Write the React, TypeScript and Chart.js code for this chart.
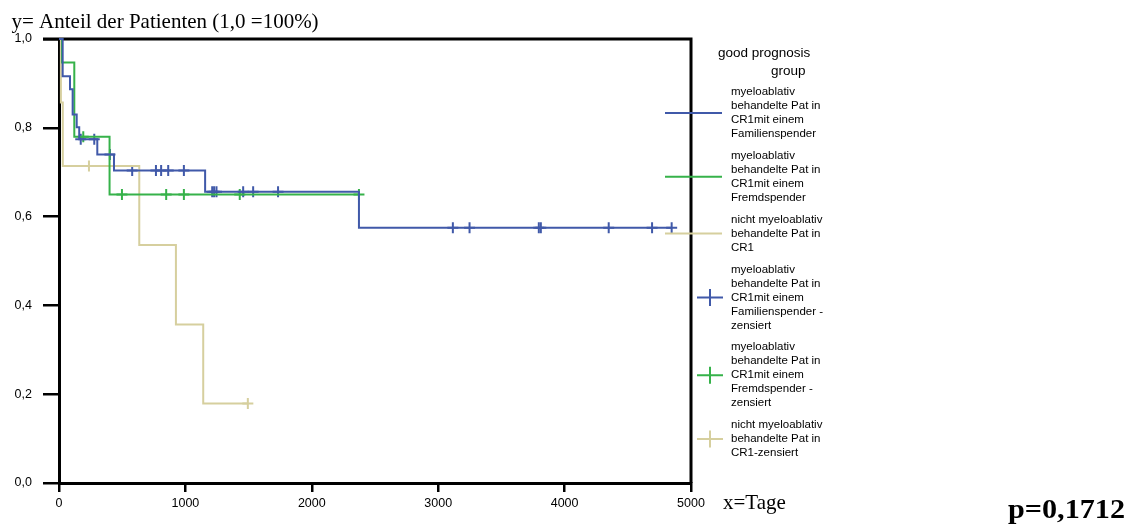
import React, { useEffect, useRef } from "react";
import { Chart, registerables } from "chart.js";

Chart.register(...registerables);

// Kaplan–Meier steps: day of each event and survival after it
const familyDays = [0, 29, 87, 108, 140, 160, 303, 435, 1156, 2373, 4847];
const familySurvival = [1, 0.916, 0.887, 0.83, 0.801, 0.774, 0.74, 0.704, 0.656, 0.575, 0.575];
const familyCensored = [172, 279, 403, 579, 767, 808, 864, 988, 1212, 1227, 1246, 1457, 1536, 1733, 3116, 3248, 3796, 3812, 4349, 4692, 4847];

const unrelatedDays = [0, 24, 121, 400, 2373];
const unrelatedSurvival = [1, 0.947, 0.78, 0.65, 0.65];
const unrelatedCensored = [192, 498, 848, 988, 1430, 2373];

const nonMyeloDays = [0, 15, 30, 635, 925, 1141, 1494];
const nonMyeloSurvival = [1, 0.857, 0.714, 0.536, 0.357, 0.179, 0.179];
const nonMyeloCensored = [237, 1494];

const xTicks = [0, 1000, 2000, 3000, 4000, 5000];
const yTicks = [0, 0.2, 0.4, 0.6, 0.8, 1.0];

const colorFamily = "#4059a9";
const colorUnrelated = "#36b24a";
const colorNonMyelo = "#d6cf9e";

const legendTitle = ["good prognosis", "group"];
const legendEntries = [
  ["myeloablativ", "behandelte Pat in", "CR1mit einem", "Familienspender"],
  ["myeloablativ", "behandelte Pat in", "CR1mit einem", "Fremdspender"],
  ["nicht myeloablativ", "behandelte Pat in", "CR1"],
  ["myeloablativ", "behandelte Pat in", "CR1mit einem", "Familienspender -", "zensiert"],
  ["myeloablativ", "behandelte Pat in", "CR1mit einem", "Fremdspender -", "zensiert"],
  ["nicht myeloablativ", "behandelte Pat in", "CR1-zensiert"],
];

const yAxisTitle = "y= Anteil der Patienten (1,0 =100%)";
const xAxisTitle = "x=Tage";
const pValueText = "p=0,1712";

const SANS = '"Liberation Sans", Arial, sans-serif';
const SERIF = '"Liberation Serif", "Times New Roman", serif';

function stepPoints(days: number[], surv: number[]) {
  return days.map((d, i) => ({ x: d, y: surv[i] }));
}

function survivalAt(days: number[], surv: number[], t: number) {
  let v = surv[0];
  for (let i = 0; i < days.length; i++) if (days[i] <= t) v = surv[i];
  return v;
}

function censorPoints(days: number[], surv: number[], censored: number[]) {
  return censored.map((t) => ({ x: t, y: survivalAt(days, surv, t) }));
}

const decorations = {
  id: "decorations",
  beforeDatasetsDraw(chart: any) {
    const { ctx, chartArea } = chart;
    ctx.save();
    ctx.strokeStyle = "#000";
    ctx.lineWidth = 3;
    ctx.beginPath();
    ctx.moveTo(chartArea.left - 16, chartArea.top);
    ctx.lineTo(chartArea.right, chartArea.top);
    ctx.lineTo(chartArea.right, chartArea.bottom);
    ctx.stroke();
    ctx.restore();
  },
  afterDraw(chart: any) {
    const { ctx, chartArea } = chart;
    ctx.save();
    ctx.fillStyle = "#000";
    ctx.textAlign = "left";
    ctx.textBaseline = "alphabetic";
    ctx.font = `21px ${SERIF}`;
    ctx.fillText(yAxisTitle, 11.5, 27.5);
    ctx.fillText(xAxisTitle, chartArea.right + 32, 508.5);

    // p-value, slightly widened bold serif
    ctx.font = `bold 27px ${SERIF}`;
    const w = ctx.measureText(pValueText).width;
    ctx.save();
    ctx.translate(1008, 518);
    ctx.scale(117 / w, 1);
    ctx.fillText(pValueText, 0, 0);
    ctx.restore();

    // legend
    ctx.font = `13.5px ${SANS}`;
    ctx.textBaseline = "middle";
    ctx.fillText(legendTitle[0], 718, 53);
    ctx.fillText(legendTitle[1], 771, 71);

    const lineH = 14;
    const gap = 7.8;
    let y = 92;
    const ds = chart.data.datasets;
    legendEntries.forEach((lines, i) => {
      const center = y + ((lines.length - 1) * lineH) / 2;
      ctx.font = `11.5px ${SANS}`;
      ctx.fillStyle = "#000";
      lines.forEach((t, k) => ctx.fillText(t, 731, y + k * lineH));
      const color = ds[i].borderColor;
      ctx.strokeStyle = color;
      ctx.lineWidth = 2;
      ctx.beginPath();
      if (i < 3) {
        ctx.moveTo(665, center);
        ctx.lineTo(722, center);
      } else {
        ctx.moveTo(697, center);
        ctx.lineTo(723, center);
        ctx.moveTo(710, center - 8.5);
        ctx.lineTo(710, center + 8.5);
      }
      ctx.stroke();
      y += lines.length * lineH + gap;
    });
    ctx.restore();
  },
};

export default function App() {
  const canvasRef = useRef<HTMLCanvasElement | null>(null);

  useEffect(() => {
    if (!canvasRef.current) return;
    const curve = (label: string, days: number[], surv: number[], color: string) => ({
      type: "line" as const,
      label,
      data: stepPoints(days, surv),
      borderColor: color,
      backgroundColor: color,
      borderWidth: 2,
      stepped: "before" as const,
      pointRadius: 0,
      fill: false,
      clip: false as const,
    });
    const censor = (label: string, days: number[], surv: number[], cens: number[], color: string) => ({
      type: "scatter" as const,
      label,
      data: censorPoints(days, surv, cens),
      borderColor: color,
      backgroundColor: color,
      pointStyle: "cross" as const,
      pointRadius: 5.5,
      pointBorderWidth: 2,
      showLine: false,
      clip: false as const,
    });

    const chart = new Chart(canvasRef.current, {
      type: "scatter",
      data: {
        datasets: [
          curve("Familienspender", familyDays, familySurvival, colorFamily),
          curve("Fremdspender", unrelatedDays, unrelatedSurvival, colorUnrelated),
          curve("nicht myeloablativ", nonMyeloDays, nonMyeloSurvival, colorNonMyelo),
          censor("Familienspender - zensiert", familyDays, familySurvival, familyCensored, colorFamily),
          censor("Fremdspender - zensiert", unrelatedDays, unrelatedSurvival, unrelatedCensored, colorUnrelated),
          censor("CR1-zensiert", nonMyeloDays, nonMyeloSurvival, nonMyeloCensored, colorNonMyelo),
        ] as any,
      },
      options: {
        animation: false,
        responsive: false,
        devicePixelRatio: 1,
        layout: { padding: { left: 0, top: 39, right: 444, bottom: 0 } },
        plugins: { legend: { display: false }, tooltip: { enabled: false } },
        scales: {
          x: {
            type: "linear",
            min: 0,
            max: 5000,
            afterFit: (s: any) => { s.height = 45; },
            afterBuildTicks: (s: any) => { s.ticks = xTicks.map((v) => ({ value: v })); },
            ticks: {
              color: "#000",
              font: { family: SANS, size: 12.5 },
              padding: 4,
              maxRotation: 0,
              callback: (v: any) => String(v),
            },
            grid: { drawOnChartArea: false, drawTicks: true, tickLength: 9, color: "#000", lineWidth: 2.5 },
            border: { display: true, color: "#000", width: 3 },
          },
          y: {
            type: "linear",
            min: 0,
            max: 1,
            afterFit: (s: any) => { s.width = 59; },
            afterBuildTicks: (s: any) => { s.ticks = yTicks.map((v) => ({ value: v })); },
            ticks: {
              color: "#000",
              font: { family: SANS, size: 12.5 },
              padding: 11,
              callback: (v: any) => Number(v).toFixed(1).replace(".", ","),
            },
            grid: { drawOnChartArea: false, drawTicks: true, tickLength: 16, color: "#000", lineWidth: 2.5 },
            border: { display: true, color: "#000", width: 3 },
          },
        },
      },
      plugins: [decorations],
    });
    return () => chart.destroy();
  }, []);

  return (
    <div style={{ position: "fixed", left: 0, top: 0, width: 1135, height: 528, background: "#fff" }}>
      <canvas ref={canvasRef} width={1135} height={528} style={{ display: "block", width: 1135, height: 528 }} />
    </div>
  );
}
